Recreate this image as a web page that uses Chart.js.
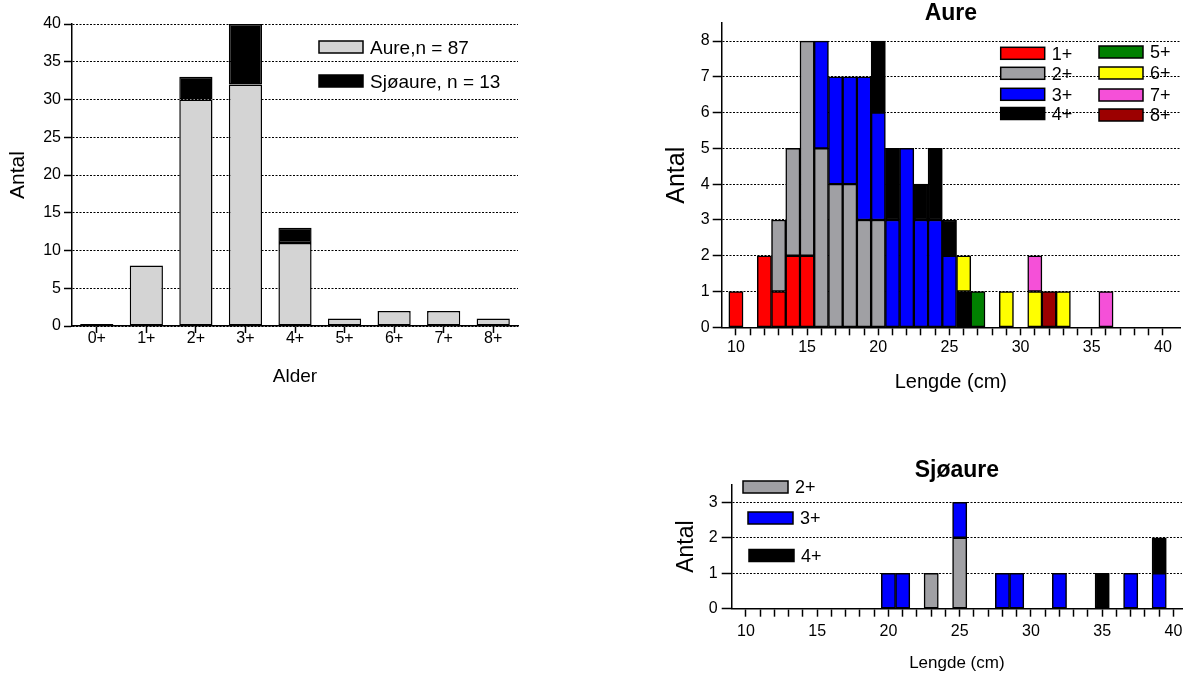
<!DOCTYPE html>
<html>
<head>
<meta charset="utf-8">
<script src="https://cdn.jsdelivr.net/npm/chart.js@4.4.0/dist/chart.umd.min.js"></script>
<style>
  body { margin: 0; background: #fff; }
  #page { position: relative; width: 1190px; height: 675px; }
  canvas { position: absolute; }
</style>
</head>
<body>
<div id="page">
  <canvas id="age" width="530" height="390" style="left:0px;top:0px"></canvas>
  <canvas id="aure" width="550" height="400" style="left:640px;top:0px"></canvas>
  <canvas id="sjo" width="550" height="225" style="left:640px;top:450px"></canvas>
</div>
<script>
// aldersfordeling
const ageClasses = ["0+", "1+", "2+", "3+", "4+", "5+", "6+", "7+", "8+"];
const aureByAge = [0, 8, 30, 32, 11, 1, 2, 2, 1];
const sjoaureByAge = [0, 0, 3, 8, 2, 0, 0, 0, 0];
const ageLegend = ["Aure,n = 87", "Sjøaure, n = 13"];

// lengdefordeling, 1 cm klasser
const lengthBins = [10, 11, 12, 13, 14, 15, 16, 17, 18, 19,
                    20, 21, 22, 23, 24, 25, 26, 27, 28, 29,
                    30, 31, 32, 33, 34, 35, 36, 37, 38, 39, 40];

// aure, antall pr lengde og alder
const aure1 = [1,0,2,1,2,2,0,0,0,0, 0,0,0,0,0,0,0,0,0,0, 0,0,0,0,0,0,0,0,0,0, 0];
const aure2 = [0,0,0,2,3,6,5,4,4,3, 3,0,0,0,0,0,0,0,0,0, 0,0,0,0,0,0,0,0,0,0, 0];
const aure3 = [0,0,0,0,0,0,3,3,3,4, 3,3,5,3,3,2,0,0,0,0, 0,0,0,0,0,0,0,0,0,0, 0];
const aure4 = [0,0,0,0,0,0,0,0,0,0, 2,2,0,1,2,1,1,0,0,0, 0,0,0,0,0,0,0,0,0,0, 0];
const aure5 = [0,0,0,0,0,0,0,0,0,0, 0,0,0,0,0,0,0,1,0,0, 0,0,0,0,0,0,0,0,0,0, 0];
const aure6 = [0,0,0,0,0,0,0,0,0,0, 0,0,0,0,0,0,1,0,0,1, 0,1,0,1,0,0,0,0,0,0, 0];
const aure7 = [0,0,0,0,0,0,0,0,0,0, 0,0,0,0,0,0,0,0,0,0, 0,1,0,0,0,0,1,0,0,0, 0];
const aure8 = [0,0,0,0,0,0,0,0,0,0, 0,0,0,0,0,0,0,0,0,0, 0,0,1,0,0,0,0,0,0,0, 0];

// sjøaure
const sjo2 = [0,0,0,0,0,0,0,0,0,0, 0,0,0,1,0,2,0,0,0,0, 0,0,0,0,0,0,0,0,0,0, 0];
const sjo3 = [0,0,0,0,0,0,0,0,0,0, 1,1,0,0,0,1,0,0,1,1, 0,0,1,0,0,0,0,1,0,1, 0];
const sjo4 = [0,0,0,0,0,0,0,0,0,0, 0,0,0,0,0,0,0,0,0,0, 0,0,0,0,0,1,0,0,0,1, 0];

const AGE_COLOURS = {
    "1+": "#ff0000", "2+": "#a0a0a4", "3+": "#0000ff", "4+": "#000000",
    "5+": "#008000", "6+": "#ffff00", "7+": "#f550d8", "8+": "#9c0000"
};
const LIGHT_GREY = "#d4d4d4";
const DOTS = [2, 1.5];

Chart.defaults.font.family = "Arial, 'Liberation Sans', sans-serif";
Chart.defaults.font.size = 16;
Chart.defaults.color = "#000";

// legend drawn inside the plot, boxes + text
function boxLegend(items, size, boxW, boxH) {
    return {
        id: "boxLegend",
        afterDraw(chart) {
            const ctx = chart.ctx;
            ctx.save();
            ctx.font = size + "px Arial, 'Liberation Sans', sans-serif";
            ctx.textBaseline = "middle";
            ctx.textAlign = "left";
            items.forEach(it => {
                ctx.fillStyle = it.color;
                ctx.fillRect(it.x, it.y, boxW, boxH);
                ctx.lineWidth = 1.5;
                ctx.strokeStyle = "#000";
                ctx.strokeRect(it.x, it.y, boxW, boxH);
                ctx.fillStyle = "#000";
                ctx.fillText(it.text, it.x + boxW + 7, it.y + boxH / 2 + 1.5);
            });
            ctx.restore();
        }
    };
}

function points(counts) {
    return lengthBins.map((x, i) => ({x: x, y: counts[i]}));
}

function lengthSets(list) {
    return list.map(([age, counts]) => ({
        label: age,
        data: points(counts),
        backgroundColor: AGE_COLOURS[age],
        borderColor: "#000",
        borderWidth: 1.5,
        borderSkipped: false,
        barPercentage: 1,
        categoryPercentage: 1
    }));
}

function histOptions(o) {
    return {
        animation: false,
        responsive: false,
        layout: {padding: {top: 0, left: 0, bottom: 0, right: o.padRight}},
        plugins: {
            legend: {display: false},
            tooltip: {enabled: false},
            title: {
                display: true, text: o.title, fullSize: false, color: "#000",
                font: {size: 23, weight: "bold", lineHeight: 0.8},
                padding: {top: o.titleTop, bottom: o.titleBottom}
            }
        },
        scales: {
            x: {
                type: "linear", min: 9, max: o.xmax, stacked: true, offset: false,
                afterBuildTicks: ax => { ax.ticks = ax.ticks.filter(t => t.value >= 10 && t.value <= 40); },
                afterFit: ax => { ax.height = o.xh; },
                ticks: {
                    stepSize: 1, autoSkip: false, maxRotation: 0, minRotation: 0,
                    includeBounds: false, padding: o.xLabelPad,
                    callback: v => (v % 5 === 0 ? String(v) : "")
                },
                grid: {drawOnChartArea: false, offset: false, tickLength: 8, tickColor: "#000", tickWidth: 1.5},
                border: {color: "#000", width: 1.5},
                title: {display: true, text: "Lengde (cm)", font: {size: o.xTitleSize}, padding: {top: 0, bottom: o.xTitlePad}}
            },
            y: {
                min: 0, max: o.ymax, stacked: true,
                afterFit: ax => { ax.width = o.yw; },
                ticks: {stepSize: 1, includeBounds: false, padding: o.yLabelPad},
                grid: {color: "#000", lineWidth: 1, tickLength: o.yTickLen, tickColor: "#000", tickWidth: 1.5, tickBorderDash: []},
                border: {color: "#000", width: 1.5, dash: DOTS},
                title: {display: true, text: "Antal", font: {size: o.yTitleSize}, padding: {top: o.yTitlePad, bottom: 0}}
            }
        }
    };
}

// alder, aure og sjøaure
new Chart(document.getElementById("age"), {
    type: "bar",
    data: {
        labels: ageClasses,
        datasets: [
            {label: ageLegend[0], data: aureByAge, backgroundColor: LIGHT_GREY, borderColor: "#000",
             borderWidth: 1.5, borderSkipped: false, minBarLength: 2},
            {label: ageLegend[1], data: sjoaureByAge, backgroundColor: "#000", borderColor: "#000",
             borderWidth: 1.5, borderSkipped: false}
        ]
    },
    options: {
        animation: false,
        responsive: false,
        layout: {padding: {top: 24, right: 12, left: 0, bottom: 0}},
        datasets: {bar: {categoryPercentage: 1, barPercentage: 0.67}},
        plugins: {legend: {display: false}, tooltip: {enabled: false}},
        scales: {
            x: {
                stacked: true,
                afterFit: ax => { ax.height = 64; },
                ticks: {padding: -4, maxRotation: 0},
                grid: {drawOnChartArea: false, offset: false, tickLength: 7, tickColor: "#000", tickWidth: 1.5},
                border: {color: "#000", width: 1.5},
                title: {display: true, text: "Alder", font: {size: 19}, padding: {top: 0, bottom: 2}}
            },
            y: {
                stacked: true, min: 0, max: 40,
                afterFit: ax => { ax.width = 72; },
                ticks: {stepSize: 5, padding: 3},
                grid: {color: "#000", lineWidth: 1, tickLength: 8, tickColor: "#000", tickWidth: 1.5, tickBorderDash: []},
                border: {color: "#000", width: 1.5, dash: DOTS},
                title: {display: true, text: "Antal", font: {size: 21}, padding: {top: 5.4, bottom: 0}}
            }
        }
    },
    plugins: [boxLegend([
        {text: ageLegend[0], color: LIGHT_GREY, x: 319, y: 41},
        {text: ageLegend[1], color: "#000", x: 319, y: 75}
    ], 19, 44, 12)]
});

// aure, lengde
new Chart(document.getElementById("aure"), {
    type: "bar",
    data: {
        datasets: lengthSets([
            ["1+", aure1], ["2+", aure2], ["3+", aure3], ["4+", aure4],
            ["5+", aure5], ["6+", aure6], ["7+", aure7], ["8+", aure8]
        ])
    },
    options: histOptions({
        title: "Aure", titleTop: 4.8, titleBottom: 0,
        xmax: 41.2, ymax: 8.5, xh: 72.7, yw: 81.7, padRight: 10,
        xLabelPad: 3, xTitleSize: 20, xTitlePad: 6,
        yLabelPad: 3, yTickLen: 9, yTitleSize: 25, yTitlePad: 21.7
    }),
    plugins: [boxLegend([
        {text: "1+", color: AGE_COLOURS["1+"], x: 360.7, y: 47.3},
        {text: "2+", color: AGE_COLOURS["2+"], x: 360.7, y: 67.3},
        {text: "3+", color: AGE_COLOURS["3+"], x: 360.7, y: 88.3},
        {text: "4+", color: AGE_COLOURS["4+"], x: 360.7, y: 107.5},
        {text: "5+", color: AGE_COLOURS["5+"], x: 459, y: 46},
        {text: "6+", color: AGE_COLOURS["6+"], x: 459, y: 67},
        {text: "7+", color: AGE_COLOURS["7+"], x: 459, y: 89},
        {text: "8+", color: AGE_COLOURS["8+"], x: 459, y: 109}
    ], 18, 44, 12)]
});

// sjøaure, lengde
new Chart(document.getElementById("sjo"), {
    type: "bar",
    data: {
        datasets: lengthSets([["2+", sjo2], ["3+", sjo3], ["4+", sjo4]])
    },
    options: histOptions({
        title: "Sjøaure", titleTop: 11.8, titleBottom: 4.4,
        xmax: 40.6, ymax: 3.5, xh: 66.3, yw: 91.7, padRight: 8,
        xLabelPad: 5, xTitleSize: 17, xTitlePad: 1.8,
        yLabelPad: 4, yTickLen: 10, yTitleSize: 23, yTitlePad: 33.2
    }),
    plugins: [boxLegend([
        {text: "2+", color: AGE_COLOURS["2+"], x: 103, y: 31},
        {text: "3+", color: AGE_COLOURS["3+"], x: 108, y: 62},
        {text: "4+", color: AGE_COLOURS["4+"], x: 109, y: 99.5}
    ], 18, 45, 12)]
});
</script>
</body>
</html>
